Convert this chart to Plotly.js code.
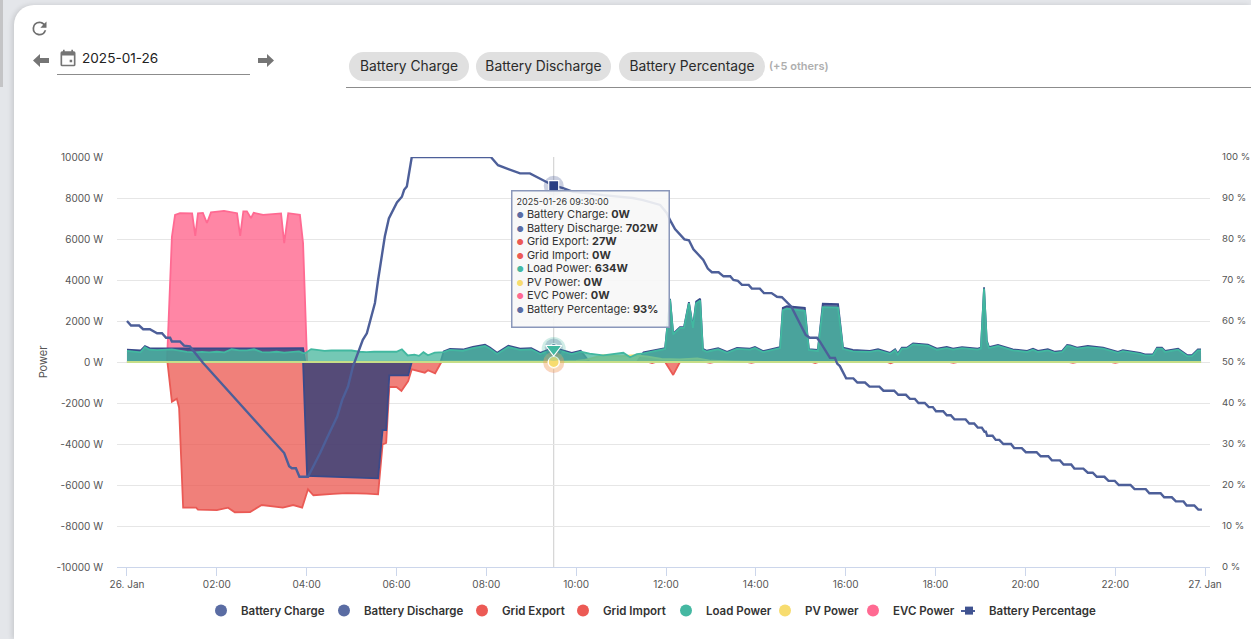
<!DOCTYPE html>
<html>
<head>
<meta charset="utf-8">
<script src="https://cdn.plot.ly/plotly-3.0.1.min.js"></script>
<style>
  html, body { margin: 0; padding: 0; width: 1251px; height: 639px; overflow: hidden; background: #e4e6ea; font-family: Inter, "Open Sans", sans-serif; }
  #edge { position: absolute; left: 0; top: 0; width: 3px; height: 87px; background: #c4c4c6; }
  #card { position: absolute; left: 14px; top: 5px; width: 1237px; height: 634px; background: #fff; border-top-left-radius: 20px; box-shadow: -2px 0 5px rgba(0,0,0,.12); }
  #chart { position: absolute; left: 0; top: 0; width: 1251px; height: 639px; }
  .icon { position: absolute; }
  #date { position: absolute; left: 82px; top: 49px; font-size: 13.6px; line-height: 19px; color: #222; }
  #dateline { position: absolute; left: 57px; top: 74px; width: 193px; height: 1px; background: #8c8c8c; }
  .chip { position: absolute; top: 52px; height: 29px; line-height: 29px; border-radius: 15px; background: #e0e0e0; color: #2b2b2b; font-size: 13.8px; text-align: center; }
  #others { position: absolute; left: 769px; top: 59px; font-size: 11px; font-weight: 600; color: #aeaeae; }
  #chipline { position: absolute; left: 346px; top: 87px; width: 905px; height: 1px; background: #8c8c8c; }
</style>
</head>
<body>
<div id="edge"></div>
<div id="card"></div>
<svg class="icon" style="left:29px;top:18px" width="21" height="21" viewBox="0 0 24 24"><path fill="#6e6e6e" d="M17.65 6.35A7.95 7.95 0 0 0 12 4a8 8 0 1 0 7.73 10h-2.08A6 6 0 1 1 12 6c1.66 0 3.14.69 4.22 1.78L13 11h7V4l-2.35 2.35z"/></svg>
<svg class="icon" style="left:33px;top:53px" width="16" height="15" viewBox="0 0 16 15"><path fill="#757575" d="M0 7.5 7 1v4h9v5H7v4z"/></svg>
<svg class="icon" style="left:58px;top:48px" width="20" height="20" viewBox="0 0 24 24"><path fill="#757575" d="M19 4h-1V2h-2v2H8V2H6v2H5a2 2 0 0 0-2 2v14a2 2 0 0 0 2 2h14a2 2 0 0 0 2-2V6a2 2 0 0 0-2-2zm0 16H5V9h14v11zm-5-6h3v3h-3z"/></svg>
<div id="date">2025-01-26</div>
<div id="dateline"></div>
<svg class="icon" style="left:258px;top:53px" width="16" height="15" viewBox="0 0 16 15"><path fill="#757575" d="M16 7.5 9 1v4H0v5h9v4z"/></svg>
<div class="chip" style="left:349px;width:120px">Battery Charge</div>
<div class="chip" style="left:476px;width:135px">Battery Discharge</div>
<div class="chip" style="left:619px;width:146px">Battery Percentage</div>
<div id="others">(+5 others)</div>
<div id="chipline"></div>
<div id="chart"></div>

<script>
// hours since midnight 26 Jan
var loadHours = [
  0, .17, .3, .4, .5, .67, .83, 1, 1.17, 1.33,
  1.5, 1.67, 1.83, 2, 2.17, 2.33, 2.5, 2.67, 2.83, 3,
  3.17, 3.33, 3.5, 3.67, 3.83, 3.92, 3.97, 4.1, 4.25, 4.4,
  4.55, 4.7, 4.85, 5, 5.17, 5.33, 5.5, 5.67, 5.83, 6,
  6.12, 6.25, 6.4, 6.5, 6.6, 6.7, 6.85, 6.98, 7.05, 7.19,
  7.48, 7.7, 7.97, 8.08, 8.24, 8.49, 8.75, 9, 9.2, 9.5,
  9.9, 10.1, 10.3, 10.6, 11.05, 11.2, 11.35, 11.5, 11.9, 11.98,
  12.09, 12.16, 12.31, 12.4, 12.51, 12.6, 12.67, 12.76, 12.82, 12.91,
  13.16, 13.36, 13.58, 13.87, 13.98, 14.16, 14.54, 14.6, 14.69, 15.09,
  15.18, 15.38, 15.49, 15.83, 15.94, 16.16, 16.54, 16.72, 16.99, 17.1,
  17.16, 17.25, 17.36, 17.5, 17.83, 18.03, 18.25, 18.39, 18.59, 18.94,
  19.01, 19.08, 19.14, 19.19, 19.39, 19.72, 20.04, 20.17, 20.28, 20.5,
  20.66, 20.82, 20.93, 21, 21.15, 21.39, 21.73, 22.06, 22.17, 22.55,
  22.66, 22.84, 22.93, 23.04, 23.11, 23.29, 23.4, 23.6, 23.71, 23.84,
  23.91
];
var loadPower = [
  540, 520, 470, 720, 600, 580, 590, 620, 560, 490,
  470, 490, 470, 500, 470, 620, 570, 570, 620, 480,
  470, 500, 460, 480, 520, 430, 430, 630, 600, 540,
  560, 560, 530, 560, 500, 480, 500, 490, 510, 500,
  620, 320, 360, 300, 480, 330, 460, 470, 480, 590,
  550, 680, 780, 650, 390, 730, 590, 620, 390, 634,
  390, 500, 410, 320, 450, 230, 380, 420, 620, 640,
  3050, 1350, 1660, 1660, 2870, 1660, 2870, 3000, 590, 500,
  620, 450, 640, 600, 680, 480, 680, 2530, 2600, 2500,
  590, 540, 2680, 2650, 640, 520, 490, 570, 400, 570,
  360, 650, 650, 860, 800, 600, 680, 600, 680, 600,
  650, 3580, 1000, 680, 780, 570, 490, 600, 490, 570,
  450, 490, 780, 760, 650, 730, 650, 450, 530, 400,
  320, 320, 650, 650, 490, 570, 600, 290, 290, 570,
  570
];
var batteryDischarge = [
  600, 590, 560, 780, 680, 660, 660, 680, 660, 650,
  650, 650, 650, 660, 660, 670, 660, 660, 670, 660,
  660, 660, 660, 660, 670, 670, 0, 0, 0, 0,
  0, 0, 0, 0, 0, 0, 0, 0, 0, 0,
  0, 0, 0, 0, 0, 0, 0, 0, 520, 640,
  610, 740, 840, 710, 450, 790, 650, 680, 450, 702,
  450, 550, 0, 0, 0, 0, 0, 470, 660, 680,
  3080, 1380, 1700, 1700, 2920, 1700, 2950, 3080, 640, 550,
  670, 500, 690, 650, 730, 530, 730, 2640, 2720, 2640,
  630, 590, 2840, 2820, 700, 590, 540, 620, 450, 620,
  410, 700, 700, 910, 850, 650, 730, 650, 730, 650,
  700, 3650, 1050, 730, 830, 620, 540, 650, 540, 620,
  500, 540, 830, 810, 700, 780, 700, 500, 580, 450,
  370, 370, 700, 700, 540, 620, 650, 340, 340, 620,
  620
];

var chargeHours = [0, 3.92, 4.01, 5.59, 5.69, 5.77, 5.84, 6.26, 6.34, 23.91];
var batteryCharge = [0, 0, -5560, -5675, -3317, -3317, -650, -650, 0, 0];

var exportHours = [
  0, .9, 1, 1.11, 1.16, 1.25, 1.54, 1.58, 2, 2.25,
  2.4, 2.74, 3, 3.47, 3.7, 3.9, 4.03, 4.15, 4.59, 4.89,
  5.34, 5.59, 5.69, 5.77, 5.84, 6, 6.11, 6.26, 6.34, 6.52,
  6.63, 6.7, 6.86, 7, 7.03, 11.6, 11.69, 11.78, 11.98, 12.16,
  12.31, 12.9, 12.98, 13.06, 13.82, 13.9, 13.98, 15.24, 15.32, 15.4,
  16.92, 17, 17.08, 18.32, 18.4, 18.48, 20.98, 21.06, 21.14, 21.92,
  22, 22.08, 23.91
];
var gridExport = [
  0, 0, -1935, -1789, -2228, -7105, -7100, -7200, -7230, -7105,
  -7330, -7317, -6976, -7100, -6976, -7100, -6211, -6500, -6430, -6400,
  -6420, -6455, -4016, -3950, -1220, -1220, -1415, -927, -358, -440,
  -520, -400, -550, 0, 0, 0, -50, 0, 0, -630,
  0, 0, -40, 0, 0, -40, 0, 0, -50, 0,
  0, -60, 0, 0, -40, 0, 0, -40, 0, 0,
  -40, 0, 0
];

var importHours = [0, 23.91];
var gridImport = [0, 0];

var pvHours = [0, 9.6, 9.7, 10, 10.2, 10.6, 11, 11.3, 11.6, 11.9, 12.3, 12.7, 13, 13.5, 14, 14.2, 23.91];
var pvPower = [0, 0, 30, 50, 100, 335, 280, 330, 260, 150, 130, 180, 60, 30, 20, 0, 0];

var evcHours = [0, .89, 1, 1.07, 1.18, 1.45, 1.52, 1.58, 1.69, 1.78, 1.87, 2.16, 2.45, 2.52, 2.59, 2.67, 2.76, 2.82, 3.03, 3.43, 3.5, 3.59, 3.85, 3.92, 4.01, 23.91];
var evcPower = [0, 0, 6100, 7170, 7260, 7250, 6150, 7250, 7270, 6780, 7300, 7370, 7260, 6150, 7350, 7350, 7020, 7280, 7180, 7250, 5800, 7260, 7180, 5800, 0, 0];

var percentHours = [
  0, .09, .27, .36, .51, .67, .78, .87, .96, 1,
  1.18, 1.27, 1.4, 1.56, 1.69, 3.5, 3.61, 3.67, 3.76, 3.84,
  4.01, 4.03, 4.3, 4.36, 4.45, 4.68, 4.79, 4.92, 5.03, 5.25,
  5.34, 5.52, 5.59, 5.74, 5.83, 6.01, 6.12, 6.17, 6.23, 6.34,
  8.1, 8.26, 8.53, 8.75, 8.97, 9.26, 9.5, 9.71, 9.93, 10.24,
  10.6, 11.26, 11.49, 11.87, 12.02, 12.09, 12.2, 12.41, 12.51, 12.61,
  12.83, 12.93, 13.02, 13.17, 13.28, 13.43, 13.5, 13.6, 13.69, 13.84,
  13.91, 14.09, 14.18, 14.35, 14.47, 14.58, 14.79, 15.11, 15.2, 15.36,
  15.43, 15.65, 15.76, 15.81, 15.87, 16.01, 16.17, 16.26, 16.43, 16.53,
  16.75, 16.84, 17.08, 17.17, 17.34, 17.43, 17.54, 17.62, 17.76, 17.85,
  17.94, 18.01, 18.17, 18.25, 18.34, 18.42, 18.67, 18.75, 18.86, 18.94,
  19.03, 19.09, 19.12, 19.15, 19.27, 19.34, 19.42, 19.51, 19.68, 19.75,
  19.92, 20.01, 20.25, 20.34, 20.51, 20.59, 20.77, 20.85, 21.02, 21.09,
  21.29, 21.39, 21.5, 21.59, 21.76, 21.85, 21.99, 22.08, 22.34, 22.43,
  22.68, 22.76, 23.01, 23.09, 23.26, 23.35, 23.52, 23.59, 23.76, 23.85,
  23.93
];
var batteryPercentage = [
  60, 58.9, 58.9, 58, 58, 57, 57, 55.9, 55.9, 55,
  55, 54, 53.8, 51.7, 49.8, 27.8, 24.6, 24.1, 24.1, 22,
  22, 22, 27.8, 29.3, 31.4, 36.7, 40.7, 44, 48.9, 55.4,
  57, 64.4, 70, 80.6, 85, 88.9, 90.3, 92, 92.8, 100,
  100, 98, 96.8, 96, 96, 94.4, 93, 92.4, 91.5, 91.2,
  90.7, 90, 89.5, 88.3, 86.3, 84.6, 82.4, 79.9, 79.7, 77.5,
  74.9, 72.8, 71.9, 71.9, 70.9, 70.9, 70, 69.8, 68.8, 68.8,
  67.9, 67.9, 66.8, 66.8, 65.9, 65.8, 63.5, 56.6, 55.9, 55.9,
  54.9, 51, 51, 49.6, 49, 46, 46, 45, 45, 44,
  44, 43, 43, 42, 42, 41, 41, 40, 40, 39,
  39, 38, 38, 37, 37, 36, 36, 35, 35, 34,
  34, 33, 33, 32, 32, 31, 31, 30, 30, 29,
  29, 28, 28, 27, 27, 26, 26, 25, 25, 24,
  24, 23, 23, 22, 22, 21, 21, 20, 20, 19,
  19, 18, 18, 17, 17, 16, 16, 15, 15, 14,
  14
];

var tickHours = [0, 2, 4, 6, 8, 10, 12, 14, 16, 18, 20, 22, 24];
var tickLabels = ['26. Jan', '02:00', '04:00', '06:00', '08:00', '10:00', '12:00', '14:00', '16:00', '18:00', '20:00', '22:00', '27. Jan'];
var powerTicks = [10000, 8000, 6000, 4000, 2000, 0, -2000, -4000, -6000, -8000, -10000];
var percentTicks = [0, 10, 20, 30, 40, 50, 60, 70, 80, 90, 100];

// the point under the cursor
var cursorHour = 9.5;
var cursorTime = '2025-01-26 09:30:00';
var cursorNames = ['Battery Charge', 'Battery Discharge', 'Grid Export', 'Grid Import', 'Load Power', 'PV Power', 'EVC Power', 'Battery Percentage'];
var cursorValues = [0, 702, 27, 0, 634, 0, 0, 93];
var cursorUnits = ['W', 'W', 'W', 'W', 'W', 'W', 'W', '%'];

var navy = 'rgb(58,74,138)', navyFill = 'rgba(33,57,120,0.75)';
var red = '#ea5a55', redFill = 'rgba(235,85,77,0.75)';
var teal = '#42b8a0', tealFill = 'rgba(70,181,156,0.75)';
var yellow = '#f7dc6f', yellowFill = 'rgba(247,220,100,0.75)';
var pink = '#ff6a92', pinkFill = 'rgba(255,94,135,0.75)';
var legendNavy = '#5a6ca3', legendRed = '#ec5a55', legendTeal = '#45b8a2', legendYellow = '#f7dc6f', legendPink = '#ff6a92';
var dotColors = [legendNavy, legendNavy, legendRed, legendRed, legendTeal, legendYellow, legendPink, legendNavy];
var legendLeft = [201, 324, 462, 563, 666, 765, 853, 949];

function toDate(h) {
  return new Date(Date.UTC(2025, 0, 26) + h * 3600000).toISOString().slice(0, 19).replace('T', ' ');
}

function area(hours, values, line, fill) {
  return {
    x: hours.map(toDate), y: values, type: 'scatter', mode: 'lines', fill: 'tozeroy',
    line: { color: line, width: 1.8 }, fillcolor: fill, showlegend: false, hoverinfo: 'skip'
  };
}

function cursorDot(value, axis, color, symbol, size) {
  return [{
    x: [toDate(cursorHour)], y: [value], yaxis: axis, type: 'scatter', mode: 'markers', showlegend: false, hoverinfo: 'skip',
    marker: { color: color, size: size + 10, opacity: 0.25, symbol: 'circle' }
  }, {
    x: [toDate(cursorHour)], y: [value], yaxis: axis, type: 'scatter', mode: 'markers', showlegend: false, hoverinfo: 'skip',
    marker: { color: color, size: size, symbol: symbol, line: { color: '#fff', width: 1.2 } }
  }];
}

// drawn bottom to top
var data = [
  area(exportHours, gridExport, red, redFill),
  area(chargeHours, batteryCharge, navy, navyFill),
  area(evcHours, evcPower, pink, pinkFill),
  area(loadHours, batteryDischarge, navy, navyFill),
  area(pvHours, pvPower, yellow, yellowFill),
  area(loadHours, loadPower, teal, tealFill),
  // grid import sits on zero all day, the pale line along the axis
  area(importHours, gridImport, '#c6de88', 'rgba(0,0,0,0)')
];

data.push({
  x: percentHours.map(toDate), y: batteryPercentage, yaxis: 'y2', type: 'scatter', mode: 'lines',
  line: { color: '#4d5f99', width: 2.4 }, showlegend: false, hoverinfo: 'skip'
});

data = data.concat(
  cursorDot(cursorValues[1], 'y', navy, 'circle', 8),
  cursorDot(-cursorValues[2], 'y', red, 'circle', 11),
  cursorDot(cursorValues[5], 'y', yellow, 'circle', 11),
  cursorDot(cursorValues[4], 'y', teal, 'triangle-down', 14),
  cursorDot(cursorValues[7], 'y2', '#2a3f83', 'square', 10)
);

var layout = {
  width: 1251,
  height: 639,
  margin: { l: 117, r: 41, t: 157, b: 72, pad: 0 },
  paper_bgcolor: 'rgba(0,0,0,0)',
  plot_bgcolor: 'rgba(0,0,0,0)',
  showlegend: true,
  xaxis: {
    type: 'date', range: [toDate(-0.222), toDate(24.11)], showgrid: false, zeroline: false,
    tickmode: 'array', tickvals: tickHours.map(toDate), ticktext: tickLabels,
    ticks: 'outside', ticklen: 8, tickcolor: '#ccd6eb', tickwidth: 1,
    showline: true, linecolor: '#ccd6eb', linewidth: 1,
    tickfont: { family: 'Inter, "Open Sans", sans-serif', size: 10, color: '#555' }
  },
  yaxis: {
    range: [-10000, 10000], tickmode: 'array', tickvals: powerTicks, ticktext: powerTicks.map(function (v) { return v + ' W'; }),
    showgrid: true, gridcolor: '#e6e6e6', gridwidth: 1, zeroline: false, ticklabelstandoff: 13,
    tickfont: { family: 'Inter, "Open Sans", sans-serif', size: 10, color: '#555' },
    title: { text: 'Power', font: { family: 'Inter, "Open Sans", sans-serif', size: 11, color: '#555' }, standoff: 6 }
  },
  yaxis2: {
    range: [0, 100], overlaying: 'y', side: 'right', tickmode: 'array', tickvals: percentTicks,
    ticktext: percentTicks.map(function (v) { return v + ' %'; }), showgrid: false, zeroline: false,
    tickfont: { family: 'Inter, "Open Sans", sans-serif', size: 9.6, color: '#555' }, ticklabelstandoff: 11
  },
  shapes: [{
    type: 'line', xref: 'x', yref: 'paper', x0: toDate(cursorHour), x1: toDate(cursorHour), y0: 0, y1: 1,
    line: { color: '#cccccc', width: 1 }, layer: 'below'
  }, {
    // the little line through the square in the last legend entry
    type: 'line', xref: 'paper', yref: 'paper', x0: (961 - 117) / 1093, x1: (975 - 117) / 1093, y0: (567 - 611) / 410, y1: (567 - 611) / 410,
    line: { color: '#4d5f99', width: 2 }, layer: 'below'
  }],
  annotations: []
};

// one legend per entry so the gaps can follow the reference
cursorNames.forEach(function (name, i) {
  var key = i === 0 ? 'legend' : 'legend' + (i + 1);
  var last = i === cursorNames.length - 1;
  data.push({
    x: [null], y: [null], type: 'scatter', mode: 'markers', name: name, legend: key, showlegend: true, hoverinfo: 'skip',
    marker: { color: last ? '#3f5290' : dotColors[i], size: last ? 8 : 12, symbol: last ? 'square' : 'circle' }
  });
  layout[key] = {
    x: (legendLeft[i] - 117) / 1093, xanchor: 'left', y: -0.071, yanchor: 'top', orientation: 'h', bgcolor: 'rgba(0,0,0,0)',
    font: { family: 'Inter, "Open Sans", sans-serif', size: 11.5, color: '#333', weight: 600 },
    itemsizing: 'trace', itemwidth: 30, itemclick: false, itemdoubleclick: false
  };
});

var tooltip = "<span style='font-size:9px'>" + cursorTime + '</span>';
cursorNames.forEach(function (name, i) {
  tooltip += "<br><span style='color:" + dotColors[i] + ";font-size:8px'>●</span><span style='font-size:11px'> " + name + ': <b>' + cursorValues[i] + cursorUnits[i] + '</b></span>';
});

layout.annotations.push({
  xref: 'paper', yref: 'paper', x: (511 - 117) / 1093, y: (567 - 190) / 410, xanchor: 'left', yanchor: 'top',
  text: tooltip, showarrow: false, align: 'left', valign: 'top', width: 148, height: 127, borderpad: 4,
  bgcolor: 'rgba(247,247,247,0.9)', bordercolor: '#8a97ba', borderwidth: 1.5,
  font: { family: 'Inter, "Open Sans", sans-serif', size: 10.4, color: '#333' }
});

Plotly.newPlot('chart', data, layout, { displayModeBar: false });
</script>
</body>
</html>
